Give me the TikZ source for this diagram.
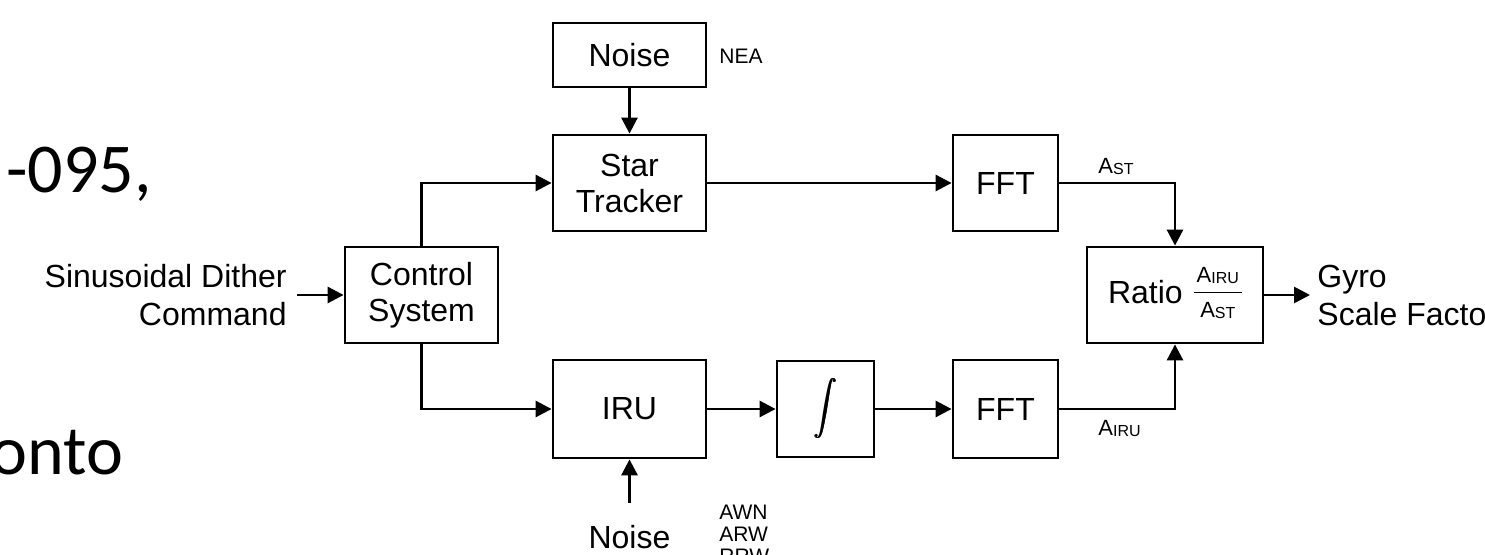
\documentclass[tikz,border=0pt]{standalone}
\usepackage{fontspec}
\setmainfont{Liberation Sans}
\newfontfamily\slidefont{Carlito}
\usetikzlibrary{arrows.meta}
\newcommand\Asb[1]{{\fontsize{11}{11}\selectfont A}\raisebox{-0.5pt}{\fontsize{8}{8}\selectfont #1}}
\newcommand\thickint{\rlap{$\displaystyle\int$}\kern0.35pt\rlap{$\displaystyle\int$}\kern0.35pt$\displaystyle\int$}
\begin{document}
\begin{tikzpicture}[x=0.5pt,y=-0.5pt,
  box/.style={draw, line width=1.4pt, inner sep=0pt, align=center, font=\fontsize{16}{18}\selectfont},
  con/.style={line width=1.4pt, -{Triangle[length=8pt,width=8pt]}},
  lbl/.style={inner sep=0pt, font=\fontsize{10.5}{11}\selectfont, align=left},
  txt/.style={inner sep=0pt, font=\fontsize{16}{19}\selectfont},
  slide/.style={inner sep=0pt, font=\slidefont\fontsize{35}{35}\selectfont}]
\useasboundingbox (0,0) rectangle (1485,555);

% slide text fragments
\node[slide, anchor=base west] (t1) at (6,193) {-095,};
\node[slide, anchor=base west] (t2) at (-10,475) {onto};

% blocks
\node[box, minimum width=76.5pt, minimum height=32pt] (noise1) at (629.5,55) {Noise};
\node[box, minimum width=76.5pt, minimum height=48pt] (star) at (629.5,183) {Star\\Tracker};
\node[box, minimum width=52.5pt, minimum height=48pt] (fft1) at (1005.5,183) {FFT};
\node[box, minimum width=76.5pt, minimum height=48pt] (ctrl) at (421.5,295) {Control\\System};
\node[box, minimum width=88pt, minimum height=48pt] (ratio) at (1175,295)
  {Ratio\hspace{5.5pt}\raisebox{1.6pt}{\fontsize{11}{12}\selectfont\setlength\arrayrulewidth{0.8pt}\begin{tabular}{@{\hspace{1.5pt}}c@{\hspace{1.5pt}}}\Asb{IRU}\\[1pt]\hline\rule{0pt}{12pt}\Asb{ST}\end{tabular}}};
\node[box, minimum width=76.5pt, minimum height=49pt] (iru) at (629.5,409) {IRU};
\node[box, minimum width=48.5pt, minimum height=48pt] (integ) at (825.5,409) {\scalebox{1.15}[1.35]{\thickint}};
\node[box, minimum width=52.5pt, minimum height=49pt] (fft2) at (1005.5,409) {FFT};

% texts
\node[txt, anchor=east, align=right, inner xsep=5pt] (sin) at (297,295) {Sinusoidal Dither\\Command};
\node[txt, anchor=west, align=left, inner xsep=3.5pt] (gyro) at (1310,295) {Gyro\\Scale Facto};
\node[txt, inner ysep=11pt] (noise2) at (629.5,537) {Noise};
\node[lbl, anchor=west] (nea) at (719,56) {NEA};
\node[lbl, anchor=north west] (awn) at (719,505) {AWN\\ARW\\RRW};
\node[inner sep=0pt, anchor=base west] (ast) at (1098,174) {\Asb{ST}};
\node[inner sep=0pt, anchor=base west] (airu) at (1098,436) {\Asb{IRU}};

% connectors
\draw[con] (noise1) -- (star);
\draw[con] (star) -- (fft1);
\draw[con] (ctrl.north) |- (star.west);
\draw[con] (ctrl.south) |- (iru.west);
\draw[con] (sin.east) -- (ctrl.west);
\draw[con] (iru) -- (integ);
\draw[con] (integ) -- (fft2);
\draw[con] (fft1.east) -| (ratio.north);
\draw[con] (fft2.east) -| (ratio.south);
\draw[con] (ratio.east) -- (gyro.west);
\draw[con] (noise2.north) -- (iru.south);
\end{tikzpicture}
\end{document}
